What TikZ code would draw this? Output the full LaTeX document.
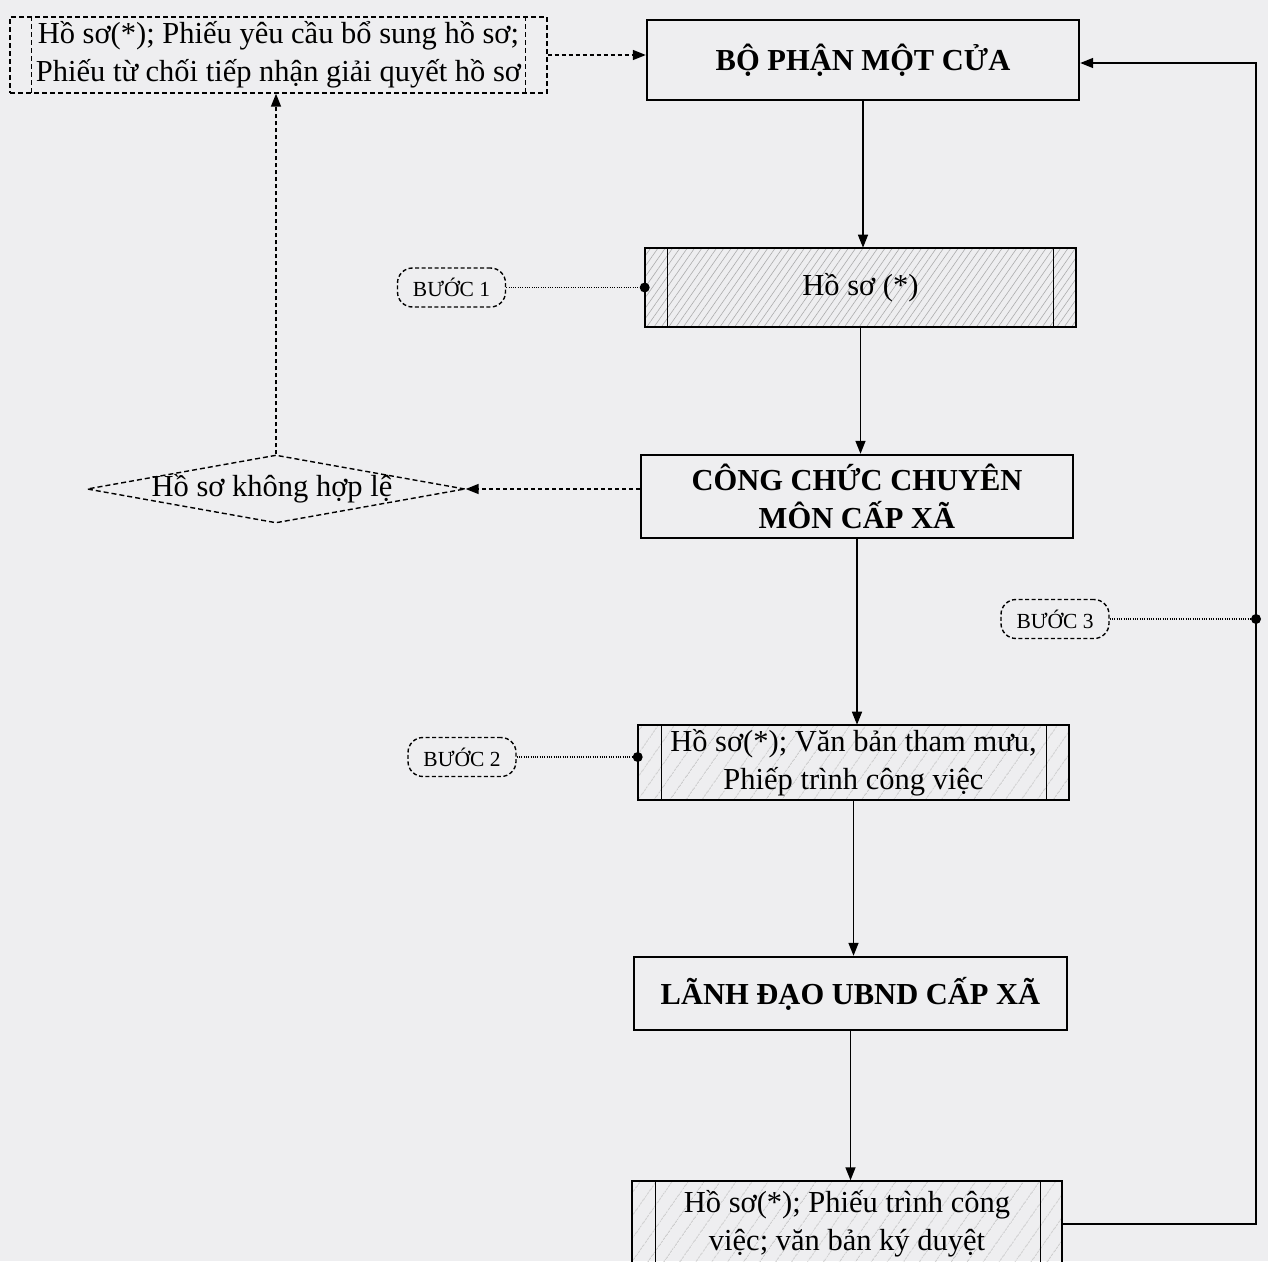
\documentclass[tikz,border=0pt]{standalone}
\usepackage{fontspec}
\setmainfont{Liberation Serif}
\usetikzlibrary{shapes.geometric,patterns.meta,arrows.meta}
\definecolor{bg}{RGB}{238,238,240}
\newcommand{\txtfont}{\fontsize{30.5}{38}\selectfont}
\newcommand{\stepfont}{\fontsize{21.5}{24}\selectfont}
\begin{document}
\begin{tikzpicture}[x=1pt,y=-1pt,
  mainbox/.style={draw, line width=2.4pt, inner sep=0pt, align=center, font=\txtfont\bfseries},
  docbox/.style={draw, line width=1.4pt, inner sep=0pt, align=center, font=\txtfont},
  dashbox/.style={dash pattern=on 5pt off 3pt},
  densehatch/.style={pattern={Lines[angle=55,distance=6pt,line width=0.6pt]}, pattern color=gray!65},
  sparsehatch/.style={pattern={Lines[angle=55,distance=13pt,line width=0.6pt]}, pattern color=gray!55},
  steplabel/.style={draw, dash pattern=on 4pt off 2.5pt, rounded corners=15pt, line width=1.4pt, minimum width=108pt, minimum height=39pt, font=\stepfont, inner sep=0pt},
  arr/.style={line width=1.5pt, -{Triangle[length=13pt,width=10pt]}},
  darr/.style={arr, dash pattern=on 4pt off 3pt},
  dotline/.style={line width=1.4pt, dash pattern=on 1pt off 1.3pt},
  jdot/.style={circle, fill, inner sep=0pt, minimum size=10pt},
  sidebar/.style={line width=1.4pt}
]
\fill[bg] (0,0) rectangle (1268,1261);
\useasboundingbox (0,0) rectangle (1268,1261);

% nodes
\node[docbox, dashbox, minimum width=537pt, minimum height=76pt] (tl) at (278.5,55)
  {Hồ sơ(*); Phiếu yêu cầu bổ sung hồ sơ;\\Phiếu từ chối tiếp nhận giải quyết hồ sơ};
\draw[sidebar, dashbox] ([xshift=22pt]tl.north west) -- ([xshift=22pt]tl.south west);
\draw[sidebar, dashbox] ([xshift=-22pt]tl.north east) -- ([xshift=-22pt]tl.south east);

\node[mainbox, minimum width=432pt, minimum height=80pt] (bp) at (863,60) {BỘ PHẬN MỘT CỬA};

\node[docbox, densehatch, minimum width=431pt, minimum height=79pt] (h1) at (860.5,287.5) {Hồ sơ (*)};
\draw[sidebar] ([xshift=23pt]h1.north west) -- ([xshift=23pt]h1.south west);
\draw[sidebar] ([xshift=-23pt]h1.north east) -- ([xshift=-23pt]h1.south east);

\node[steplabel] (s1) at (451.5,287.5) {BƯỚC 1};

\node[mainbox, minimum width=432pt, minimum height=83pt] (cc) at (857,496.5) {CÔNG CHỨC CHUYÊN\\MÔN CẤP XÃ};

\node[diamond, draw, dashbox, line width=1.4pt, minimum width=378pt, minimum height=68pt, inner sep=0pt] (dm) at (276,489) {};
\node[font=\txtfont, inner sep=0pt] (dmt) at (272,489) {Hồ sơ không hợp lệ};

\node[steplabel] (s3) at (1055,619) {BƯỚC 3};

\node[docbox, sparsehatch, minimum width=431pt, minimum height=75pt] (h2) at (853.5,762.5)
  {Hồ sơ(*); Văn bản tham mưu,\\Phiếp trình công việc};
\draw[sidebar] ([xshift=24pt]h2.north west) -- ([xshift=24pt]h2.south west);
\draw[sidebar] ([xshift=-23pt]h2.north east) -- ([xshift=-23pt]h2.south east);

\node[steplabel] (s2) at (462,757) {BƯỚC 2};

\node[mainbox, minimum width=433pt, minimum height=73pt] (ld) at (850.5,993.5) {LÃNH ĐẠO UBND CẤP XÃ};

\node[docbox, sparsehatch, minimum width=430pt, minimum height=86pt] (h3) at (847,1224)
  {Hồ sơ(*); Phiếu trình công\\việc; văn bản ký duyệt};
\draw[sidebar] ([xshift=24pt]h3.north west) -- ([xshift=24pt]h3.south west);
\draw[sidebar] ([xshift=-22pt]h3.north east) -- ([xshift=-22pt]h3.south east);

% connectors
\draw[darr] (tl.east) -- (tl.east -| bp.west);
\draw[arr] (bp.south) -- (bp.south |- h1.north);
\draw[arr] (h1.south) -- (h1.south |- cc.north);
\draw[arr] (cc.south) -- (cc.south |- h2.north);
\draw[arr] (h2.south) -- (h2.south |- ld.north);
\draw[arr] (ld.south) -- (ld.south |- h3.north);
\draw[darr] (dm.east -| cc.west) -- (dm.east);
\draw[darr] (dm.north) -- (dm.north |- tl.south);

\coordinate (rb) at (1256,1224);
\coordinate (rt) at (1256,63);
\draw[arr] (h3.east) -- (rb) -- (rt) -- (rt -| bp.east);

\node[jdot] (d1) at (h1.west |- s1.east) {};
\node[jdot] (d2) at (h2.west |- s2.east) {};
\node[jdot] (d3) at (rt |- s3.east) {};
\draw[dotline] (s1.east) -- (d1);
\draw[dotline] (s2.east) -- (d2);
\draw[dotline] (s3.east) -- (d3);
\end{tikzpicture}
\end{document}
